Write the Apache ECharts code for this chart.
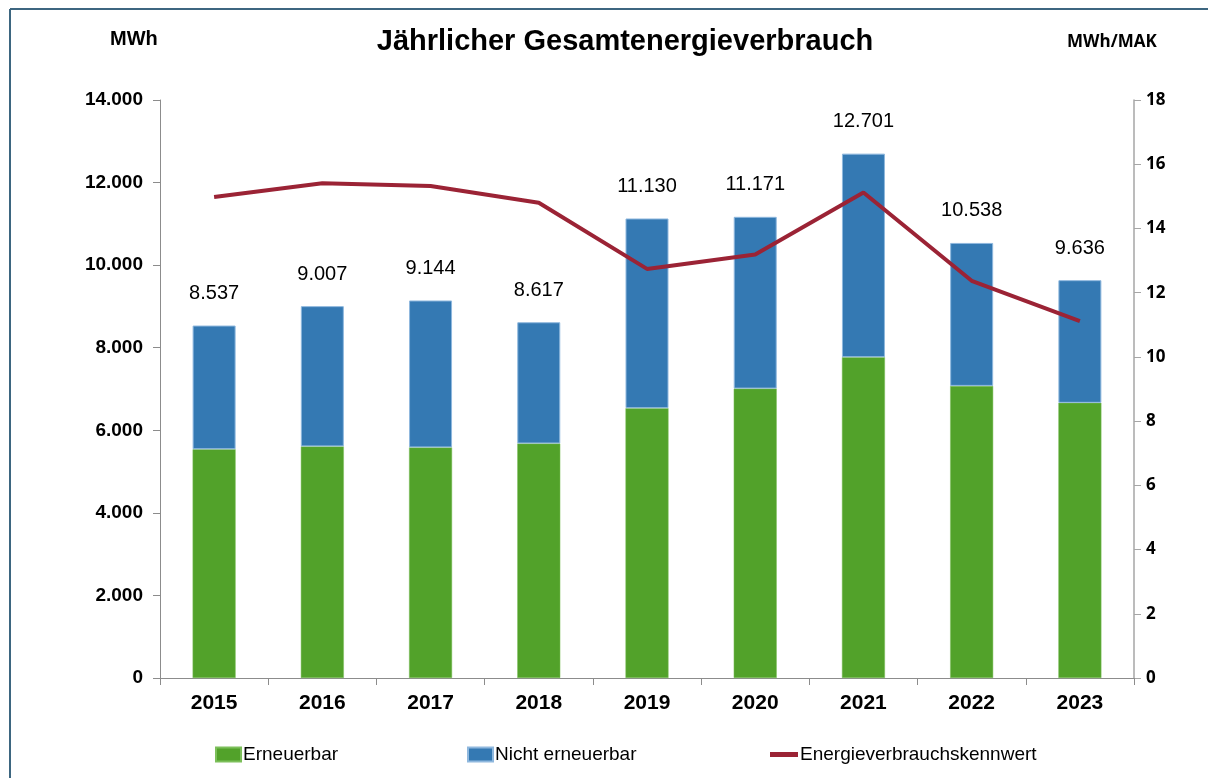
<!DOCTYPE html>
<html>
<head>
<meta charset="utf-8">
<title>Jährlicher Gesamtenergieverbrauch</title>
<script src="https://cdn.jsdelivr.net/npm/echarts@6/dist/echarts.min.js"></script>
<style>
  html, body { margin: 0; padding: 0; background: #fff; }
  #chart { width: 1208px; height: 778px; }
</style>
</head>
<body>
<div id="chart"></div>
<script>
  const years = ['2015', '2016', '2017', '2018', '2019', '2020', '2021', '2022', '2023'];
  // Gesamt (Beschriftung) und Anteil erneuerbar, MWh
  const totals = [8537, 9007, 9144, 8617, 11130, 11171, 12701, 10538, 9636];
  const renewable = [5540, 5610, 5585, 5680, 6535, 7010, 7770, 7075, 6665];
  const nonRenewable = totals.map((t, i) => t - renewable[i]);
  // MWh/MAK
  const kennwert = [14.98, 15.41, 15.32, 14.8, 12.74, 13.19, 15.12, 12.37, 11.11];

  const fmtDE = (v) => String(v).replace(/\B(?=(\d{3})+(?!\d))/g, '.');

  const chart = echarts.init(document.getElementById('chart'));
  const frame = '#3d6680';
  const narrow = 'Liberation Sans Narrow, Arial Narrow, Liberation Sans, sans-serif';
  const legendText = { fontSize: 19, color: '#000', fontFamily: narrow, padding: [0, 0, 0, -3] };
  const legendBase = { top: 740, itemWidth: 25, itemHeight: 14, textStyle: legendText };

  chart.setOption({
    animation: false,
    textStyle: { fontFamily: 'Liberation Sans, Arial, sans-serif' },
    title: {
      text: 'Jährlicher Gesamtenergieverbrauch',
      left: 620,
      top: 22,
      textAlign: 'center',
      textStyle: { fontSize: 29, fontWeight: 'bold', color: '#000' },
    },
    graphic: [
      { type: 'line', shape: { x1: 10, y1: 9, x2: 1208, y2: 9 }, style: { stroke: frame, lineWidth: 2 } },
      { type: 'line', shape: { x1: 10, y1: 9, x2: 10, y2: 778 }, style: { stroke: frame, lineWidth: 2 } },
      {
        type: 'text', left: 110, top: 29,
        style: { text: 'MWh', fontSize: 20, fontWeight: 'bold', fill: '#000', fontFamily: 'Liberation Sans, Arial' },
      },
      {
        type: 'text', left: 1067, top: 34,
        style: { text: 'MWh/MAK', fontSize: 17, fontWeight: 'bold', fill: '#000', fontFamily: 'Open Sans, sans-serif' },
      },
    ],
    grid: { left: 160, right: 74, top: 100, bottom: 100 },
    legend: [
      Object.assign({ left: 210, data: [{ name: 'Erneuerbar', icon: 'rect' }] }, legendBase),
      Object.assign({ left: 462, data: [{ name: 'Nicht erneuerbar', icon: 'rect' }] }, legendBase),
      Object.assign({ left: 765, data: [{ name: 'Energieverbrauchskennwert', icon: 'path://M0,0L28,0L28,5L0,5Z' }] },
        legendBase, { itemWidth: 28 }),
    ],
    xAxis: {
      type: 'category',
      data: years,
      axisLine: { lineStyle: { color: '#8c8c8c', width: 1 } },
      axisTick: { show: true, length: 7, lineStyle: { color: '#8c8c8c' } },
      axisLabel: { fontSize: 21, fontWeight: 'bold', color: '#000', margin: 15, fontFamily: narrow },
    },
    yAxis: [
      {
        type: 'value',
        min: 0,
        max: 14000,
        interval: 2000,
        axisLine: { show: true, lineStyle: { color: '#8c8c8c' } },
        axisTick: { show: true, length: 7, lineStyle: { color: '#8c8c8c' } },
        splitLine: { show: false },
        axisLabel: { fontSize: 19, fontWeight: 'bold', color: '#000', margin: 17, formatter: fmtDE },
      },
      {
        type: 'value',
        min: 0,
        max: 18,
        interval: 2,
        position: 'right',
        axisLine: { show: true, lineStyle: { color: '#a6a6a6', width: 1.5 } },
        axisTick: { show: true, length: 7, lineStyle: { color: '#a6a6a6' } },
        splitLine: { show: false },
        axisLabel: { fontSize: 17, fontWeight: 'bold', color: '#000', margin: 12, fontFamily: 'Open Sans, sans-serif' },
      },
    ],
    series: [
      {
        name: 'Erneuerbar',
        type: 'bar',
        stack: 'mwh',
        barWidth: 43,
        itemStyle: { color: '#52a22a', borderColor: '#7cbf5a', borderWidth: 0.5 },
        data: renewable,
      },
      {
        name: 'Nicht erneuerbar',
        type: 'bar',
        stack: 'mwh',
        barWidth: 43,
        itemStyle: { color: '#3479b3', borderColor: '#8fb8de', borderWidth: 1 },
        label: {
          show: true,
          position: 'top',
          distance: 22,
          fontSize: 20,
          color: '#000',
          formatter: (p) => fmtDE(totals[p.dataIndex]),
        },
        data: nonRenewable,
      },
      {
        name: 'Energieverbrauchskennwert',
        type: 'line',
        yAxisIndex: 1,
        symbol: 'none',
        itemStyle: { color: '#9b2335' },
        lineStyle: { color: '#9b2335', width: 4 },
        data: kennwert,
        z: 5,
      },
    ],
  });
</script>
</body>
</html>
